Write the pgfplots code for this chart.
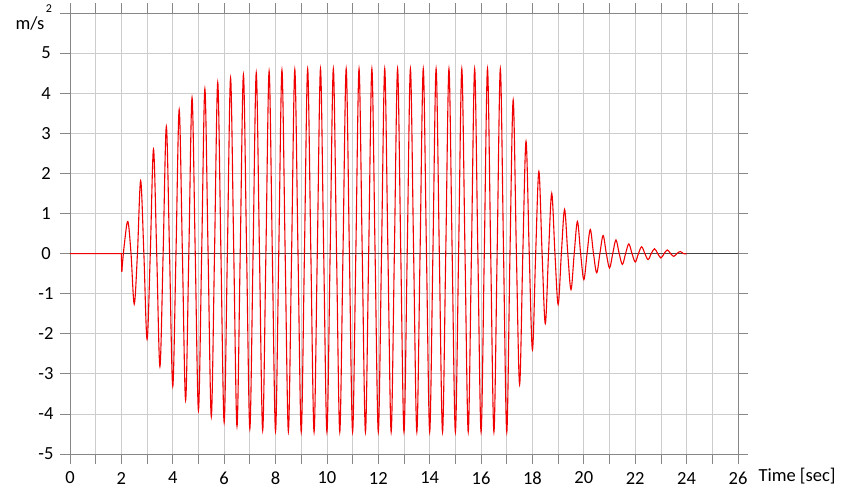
\documentclass[border=0pt]{standalone}
\usepackage{fontspec}
\setmainfont{Carlito}
\usepackage{pgfplots}
\pgfplotsset{compat=1.18}
\definecolor{gridgray}{RGB}{205,205,205}
\definecolor{framegray}{RGB}{135,135,135}
\definecolor{zerogray}{RGB}{70,70,70}
\definecolor{sigred}{RGB}{240,0,0}
\newcommand{\lab}{\fontsize{18.5bp}{21bp}\selectfont}
\begin{document}
\begin{tikzpicture}
\begin{axis}[
  scale only axis,
  width=668bp, height=441bp,
  xmin=0, xmax=26, ymin=-5, ymax=6,
  xtick={0,...,26},
  xticklabels={0,,2,,4,,6,,8,,10,,12,,14,,16,,18,,20,,22,,24,,26},
  ytick={-5,...,6},
  yticklabels={-5,-4,-3,-2,-1,0,1,2,3,4,5,},
  tick align=outside,
  major tick length=10bp,
  grid=major,
  major grid style={gridgray, line width=0.8bp},
  axis line style={framegray, line width=0.8bp},
  tick style={framegray, line width=0.8bp},
  every tick label/.append style={font=\lab, text=black},
  xticklabel style={anchor=center, yshift=-14bp},
  yticklabel style={anchor=center, xshift=-14bp},
  clip=false,
]
\draw[zerogray, line width=0.8bp] (axis cs:0,0) -- (axis cs:26,0);
% flat start and the first jump
\addplot[sigred, line width=1.1bp] coordinates {(0,0) (2,0) (2.015,-0.45)};
% response signal
\addplot[sigred, line width=1.1bp, smooth, tension=0.55] coordinates {
(2.015,-0.45) (2.11,0.2)
(2.25,0.80) (2.375,0) (2.5,-1.26) (2.625,0)
(2.75,1.82) (2.875,0) (3,-2.14) (3.125,0)
(3.25,2.60) (3.375,0) (3.5,-2.82) (3.625,0)
(3.75,3.17) (3.875,0) (4,-3.31) (4.125,0)
(4.25,3.59) (4.375,0) (4.5,-3.66) (4.625,0)
(4.75,3.89) (4.875,0) (5,-3.91) (5.125,0)
(5.25,4.11) (5.375,0) (5.5,-4.07) (5.625,0)
(5.75,4.27) (5.875,0) (6,-4.21) (6.125,0)
(6.25,4.38) (6.375,0) (6.5,-4.31) (6.625,0)
(6.75,4.46) (6.875,0) (7,-4.37) (7.125,0)
(7.25,4.51) (7.375,0) (7.5,-4.41) (7.625,0)
(7.75,4.55) (7.875,0) (8,-4.43) (8.125,0)
(8.25,4.58) (8.375,0) (8.5,-4.44) (8.625,0)
(8.75,4.59) (8.875,0) (9,-4.45) (9.125,0)
(9.25,4.60) (9.375,0) (9.5,-4.45) (9.625,0)
(9.75,4.61) (9.875,0) (10,-4.45) (10.125,0)
(10.25,4.61) (10.375,0) (10.5,-4.45) (10.625,0)
(10.75,4.61) (10.875,0) (11,-4.45) (11.125,0)
(11.25,4.61) (11.375,0) (11.5,-4.45) (11.625,0)
(11.75,4.61) (11.875,0) (12,-4.45) (12.125,0)
(12.25,4.61) (12.375,0) (12.5,-4.45) (12.625,0)
(12.75,4.61) (12.875,0) (13,-4.45) (13.125,0)
(13.25,4.61) (13.375,0) (13.5,-4.45) (13.625,0)
(13.75,4.61) (13.875,0) (14,-4.45) (14.125,0)
(14.25,4.61) (14.375,0) (14.5,-4.45) (14.625,0)
(14.75,4.61) (14.875,0) (15,-4.45) (15.125,0)
(15.25,4.61) (15.375,0) (15.5,-4.45) (15.625,0)
(15.75,4.61) (15.875,0) (16,-4.45) (16.125,0)
(16.25,4.61) (16.375,0) (16.5,-4.45) (16.625,0)
(16.75,4.61) (16.875,0) (17,-4.45) (17.125,0)
(17.25,3.83) (17.375,0) (17.5,-3.27) (17.625,0)
(17.75,2.80) (17.875,0) (18,-2.40) (18.125,0)
(18.25,2.05) (18.375,0) (18.5,-1.75) (18.625,0)
(18.75,1.50) (18.875,0) (19,-1.27) (19.125,0)
(19.25,1.10) (19.375,0) (19.5,-0.90) (19.625,0)
(19.75,0.80) (19.875,0) (20,-0.65) (20.125,0)
(20.25,0.60) (20.375,0) (20.5,-0.48) (20.625,0)
(20.75,0.45) (20.875,0) (21,-0.36) (21.125,0)
(21.25,0.34) (21.375,0) (21.5,-0.27) (21.625,0)
(21.75,0.24) (21.875,0) (22,-0.21) (22.125,0)
(22.25,0.17) (22.375,0) (22.5,-0.15) (22.625,0)
(22.75,0.12) (22.875,0) (23,-0.11) (23.125,0)
(23.25,0.09) (23.375,0) (23.5,-0.07) (23.625,0)
(23.75,0.05) (23.875,0) (24,-0.01)
};
\end{axis}
\node[anchor=west, font=\lab, text=black] at ([xshift=17bp, yshift=-22bp]current axis.south east) {Time [sec]};
\node[font=\lab, text=black] at ([xshift=-40bp, yshift=-10bp]current axis.north west) {m/s};
\node[font=\fontsize{12bp}{14bp}\selectfont, text=black] at ([xshift=-21bp, yshift=4bp]current axis.north west) {2};
\path (current axis.south west) ++(-70bp,-32bp) rectangle ++(860bp,486bp);
\end{tikzpicture}
\end{document}
